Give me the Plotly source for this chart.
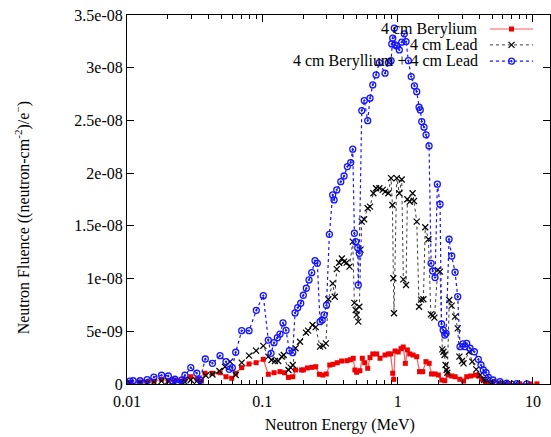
import plotly.graph_objects as go

# Energies in MeV, fluence values in units of 1e-9 neutron-cm^-2 / e-
be_energy = [0.0105, 0.0125, 0.0141, 0.0158, 0.0180, 0.0202, 0.0226, 0.0254, 0.0268, 0.0296,
             0.033, 0.0355, 0.0377, 0.0428, 0.0487, 0.0539, 0.0594, 0.0636, 0.0704, 0.0798,
             0.0900, 0.1017, 0.1107, 0.1221, 0.1351, 0.146, 0.156, 0.168, 0.176, 0.195,
             0.201, 0.215, 0.232, 0.248, 0.264, 0.280, 0.297, 0.315, 0.333, 0.358,
             0.386, 0.422, 0.447, 0.470, 0.483, 0.498, 0.526, 0.548, 0.571, 0.601,
             0.625, 0.655, 0.70, 0.741, 0.807, 0.854, 0.888, 0.920, 0.935, 0.957,
             1.01, 1.06, 1.10, 1.14, 1.18, 1.23, 1.30, 1.384, 1.45, 1.53,
             1.62, 1.71, 1.78, 1.89, 2.0, 2.12, 2.23, 2.36, 2.51, 2.66,
             2.88, 3.07, 3.24, 3.47, 3.76, 3.95, 4.17, 4.45, 4.68, 5.0,
             5.71, 6.7, 8.0, 9.5, 10.7]
be_fluence_e9 = [0.14, 0.19, 0.19, 0.28, 0.45, 0.31, 0.38, 0.28, 0.45, 0.69,
                 0.45, 0.28, 1.02, 1.02, 1.07, 0.69, 0.54, 1.02, 1.55, 1.90,
                 2.02, 2.34, 0.92, 1.07, 1.17, 1.07, 0.63, 0.69, 1.33, 1.33,
                 1.33, 1.52, 1.58, 1.64, 0.92, 0.85, 0.95, 1.80, 1.87, 2.02,
                 2.18, 2.21, 2.30, 2.44, 1.33, 1.11, 1.26, 2.44, 2.02, 1.49,
                 2.50, 2.85, 2.85, 2.44, 2.75, 2.85, 2.85, 1.02, 0.44, 3.13,
                 3.04, 3.35, 3.51, 1.96, 3.23, 2.85, 2.75, 2.59, 1.17, 1.17,
                 2.12, 1.96, 0.95, 0.95, 0.85, 0.38, 0.31, 0.85, 0.76, 0.69,
                 0.45, 0.28, 0.69, 0.76, 0.85, 0.76, 0.45, 0.12, 0.06, 0.15,
                 0.05, 0.03, 0.02, 0.01, 0.01]

pb_energy = [0.0105, 0.0125, 0.0141, 0.0158, 0.0180, 0.0202, 0.0226, 0.0254, 0.0268, 0.0296,
             0.0328, 0.0346, 0.0382, 0.0428, 0.0482, 0.0530, 0.0578, 0.0636, 0.0704, 0.0798,
             0.0900, 0.1017, 0.1107, 0.117, 0.124, 0.131, 0.139, 0.144, 0.156, 0.162,
             0.168, 0.176, 0.190, 0.210, 0.218, 0.235, 0.248, 0.267, 0.282, 0.295,
             0.3075, 0.331, 0.343, 0.355, 0.369, 0.387, 0.402, 0.420, 0.441, 0.466,
             0.479, 0.490, 0.498, 0.512, 0.521, 0.532, 0.543, 0.565, 0.601, 0.625,
             0.662, 0.693, 0.733, 0.776, 0.810, 0.854, 0.894, 0.915, 0.930, 0.940,
             0.985, 1.029, 1.072, 1.102, 1.154, 1.18, 1.23, 1.29, 1.32, 1.384,
             1.44, 1.49, 1.55, 1.60, 1.69, 1.76, 1.817, 1.87, 1.98, 2.058,
             2.14, 2.18, 2.22, 2.26, 2.30, 2.33, 2.41, 2.51, 2.657, 2.78,
             2.86, 2.99, 3.07, 3.37, 3.56, 3.81, 4.08, 4.35, 4.56, 5.0,
             5.52, 6.2, 7.4]
pb_fluence_e9 = [0.10, 0.10, 0.10, 0.19, 0.28, 0.28, 0.10, 0.19, 0.19, 0.38,
                 0.28, 0.12, 0.81, 0.90, 1.23, 1.64, 2.12, 0.85, 2.02, 2.69,
                 3.16, 3.61, 2.59, 2.28, 2.18, 2.18, 2.59, 2.75, 1.33, 1.55,
                 1.80, 3.39, 4.01, 4.87, 5.06, 5.60, 5.40, 3.54, 3.61, 3.86,
                 8.04, 9.55, 8.28, 10.9, 11.5, 11.9, 11.6, 11.51, 11.13, 13.50,
                 7.69, 7.02, 6.55, 5.91, 7.33, 12.75, 15.40, 15.63, 16.67, 16.82,
                 18.09, 18.57, 18.57, 18.41, 18.25, 18.09, 19.52, 16.98, 10.03, 6.71,
                 19.52, 18.09, 19.40, 9.93, 9.39, 17.52, 17.30, 18.09, 17.36, 15.40,
                 7.33, 8.00, 8.04, 14.87, 13.73, 6.61, 6.48, 6.29, 10.82, 10.66,
                 3.29, 3.06, 2.75, 1.80, 1.33, 1.07, 7.97, 7.43, 6.39, 5.28,
                 2.59, 2.18, 1.96, 3.06, 2.12, 1.39, 0.85, 0.38, 0.38, 0.19,
                 0.10, 0.05, 0.02]

bepb_energy = [0.0105, 0.0111, 0.0125, 0.0141, 0.0158, 0.0180, 0.0202, 0.0215, 0.0226, 0.0239,
               0.0254, 0.0268, 0.0296, 0.0328, 0.0346, 0.0379, 0.0428, 0.0487, 0.0539, 0.0570,
               0.0600, 0.0636, 0.0704, 0.0798, 0.0903, 0.1017, 0.1107, 0.1160, 0.1221, 0.1291,
               0.1351, 0.1422, 0.1497, 0.1584, 0.1678, 0.1745, 0.1826, 0.1922, 0.2009, 0.2114,
               0.2214, 0.2318, 0.2452, 0.2550, 0.267, 0.277, 0.286, 0.298, 0.313, 0.331,
               0.339, 0.355, 0.380, 0.402, 0.425, 0.450, 0.466, 0.479, 0.490, 0.507,
               0.512, 0.521, 0.543, 0.567, 0.601, 0.625, 0.655, 0.693, 0.733, 0.807,
               0.854, 0.894, 0.905, 0.920, 0.945, 0.957, 0.985, 1.029, 1.072, 1.12,
               1.154, 1.200, 1.26, 1.33, 1.384, 1.44, 1.47, 1.507, 1.567, 1.622,
               1.707, 1.766, 1.817, 1.890, 1.966, 2.058, 2.11, 2.17, 2.23, 2.28,
               2.399, 2.511, 2.657, 2.781, 2.892, 3.028, 3.149, 3.241, 3.428, 3.689,
               3.949, 4.134, 4.299, 4.502, 4.682, 5.072, 5.713, 6.404, 7.592, 8.999]
bepb_fluence_e9 = [0.28, 0.31, 0.31, 0.41, 0.66, 0.83, 0.76, 0.31, 0.45, 0.16,
                   0.38, 0.83, 1.55, 1.02, 0.38, 2.37, 1.96, 2.69, 2.12, 1.39,
                   1.55, 3.01, 5.06, 5.06, 6.99, 8.38, 4.17, 2.91, 3.92, 4.39,
                   4.74, 5.79, 5.09, 3.16, 2.97, 6.74, 7.24, 7.66, 8.42, 9.08,
                   9.87, 10.56, 11.70, 11.45, 5.91, 6.07, 6.55, 7.47, 14.20, 17.93,
                   17.46, 18.41, 19.19, 19.73, 20.62, 21.00, 22.27, 14.30, 13.50, 12.93,
                   9.39, 12.40, 25.93, 26.88, 24.98, 27.11, 28.37, 29.32, 30.48, 29.48,
                   30.48, 30.67, 32.26, 32.80, 33.75, 32.16, 32.07, 31.69, 32.42, 33.21,
                   32.48, 30.67, 29.16, 28.27, 27.73, 26.25, 26.00, 24.89, 24.36, 23.63,
                   22.58, 11.45, 10.72, 10.09, 18.95, 17.05, 5.69, 5.12, 4.65, 4.81,
                   13.73, 12.14, 10.60, 8.28, 3.54, 3.80, 3.54, 3.86, 3.39, 3.06,
                   2.34, 1.80, 1.33, 1.07, 0.63, 0.38, 0.22, 0.07, 0.03, 0.02]

series_names = ["4 cm Berylium", "4 cm Lead", "4 cm Beryllium + 4 cm Lead"]

x_tickvals = [0.01, 0.1, 1, 10]
x_ticktext = ["0.01", "0.1", "1", "10"]
x_minor = [m * d for d in (0.01, 0.1, 1) for m in range(2, 10)]
y_tickvals = [0, 5e-9, 1e-8, 1.5e-8, 2e-8, 2.5e-8, 3e-8, 3.5e-8]
y_ticktext = ["0", "5e-09", "1e-08", "1.5e-08", "2e-08", "2.5e-08", "3e-08", "3.5e-08"]

FONT = "Liberation Serif, Times New Roman, serif"
FS = 16

def scale(vals):
    return [v * 1e-9 for v in vals]

styles = [
    dict(line=dict(color="rgb(255,90,90)", width=1.2, dash="solid"),
         marker=dict(symbol="square", size=5, color="rgb(240,0,0)", line=dict(width=0))),
    dict(line=dict(color="rgb(60,60,60)", width=1, dash="dot"),
         marker=dict(symbol="x-thin-open", size=6, color="black", line=dict(width=1.2, color="black"))),
    dict(line=dict(color="rgb(20,20,255)", width=1.2, dash="dot"),
         marker=dict(symbol="circle-open-dot", size=6, color="rgb(20,20,255)", line=dict(width=1.3, color="rgb(20,20,255)"))),
]

fig = go.Figure()
datasets = [(be_energy, be_fluence_e9), (pb_energy, pb_fluence_e9), (bepb_energy, bepb_fluence_e9)]
for (ex, vy), name, st in zip(datasets, series_names, styles):
    fig.add_trace(go.Scatter(x=ex, y=scale(vy), mode="lines+markers", name=name,
                             line=st["line"], marker=st["marker"], showlegend=False,
                             cliponaxis=True))

# custom gnuplot-style key (text on the left, sample on the right)
key_y = [0.962, 0.919, 0.875]
for name, st, ky in zip(series_names, styles, key_y):
    fig.add_trace(go.Scatter(x=[0.858, 0.909, 0.960], y=[ky, ky, ky], xaxis="x2", yaxis="y2",
                             mode="lines", line=st["line"], showlegend=False, hoverinfo="skip"))
    fig.add_trace(go.Scatter(x=[0.909], y=[ky], xaxis="x2", yaxis="y2",
                             mode="markers", marker=st["marker"], showlegend=False, hoverinfo="skip"))
    fig.add_annotation(x=0.8345, y=ky, xref="paper", yref="paper", text=name,
                       showarrow=False, xanchor="right", yanchor="middle",
                       font=dict(family=FONT, size=FS, color="black"))

axis_common = dict(showline=True, linecolor="black", linewidth=1, mirror="allticks",
                   ticks="inside", tickcolor="black", showgrid=False, zeroline=False,
                   tickfont=dict(family=FONT, size=FS, color="black"))

fig.update_layout(
    width=551, height=437,
    margin=dict(l=127, r=1, t=15, b=53),
    paper_bgcolor="white", plot_bgcolor="white",
    xaxis=dict(type="log", range=[-2, 1.126], tickvals=x_tickvals, ticktext=x_ticktext,
               ticklen=7, ticklabelstandoff=3,
               minor=dict(tickvals=x_minor, ticks="inside", ticklen=4, tickcolor="black"),
               **axis_common),
    yaxis=dict(range=[0, 3.5e-8], tickvals=y_tickvals, ticktext=y_ticktext, ticklen=7,
               **axis_common),
    xaxis2=dict(overlaying="x", range=[0, 1], visible=False, anchor="y2"),
    yaxis2=dict(overlaying="y", range=[0, 1], visible=False, anchor="x2"),
    font=dict(family=FONT, size=FS, color="black"),
)

fig.add_annotation(x=0.5035, y=-0.111, xref="paper", yref="paper", text="Neutron Energy (MeV)",
                   showarrow=False, xanchor="center", yanchor="middle",
                   font=dict(family=FONT, size=FS, color="black"))
fig.add_annotation(x=-0.245, y=0.45, xref="paper", yref="paper",
                   text="Neutron Fluence ((neutron-cm<sup>-2</sup>)/e<sup>\u2212</sup>)",
                   showarrow=False, textangle=-90, xanchor="center", yanchor="middle",
                   font=dict(family=FONT, size=FS, color="black"))

fig.write_html("out.html")
